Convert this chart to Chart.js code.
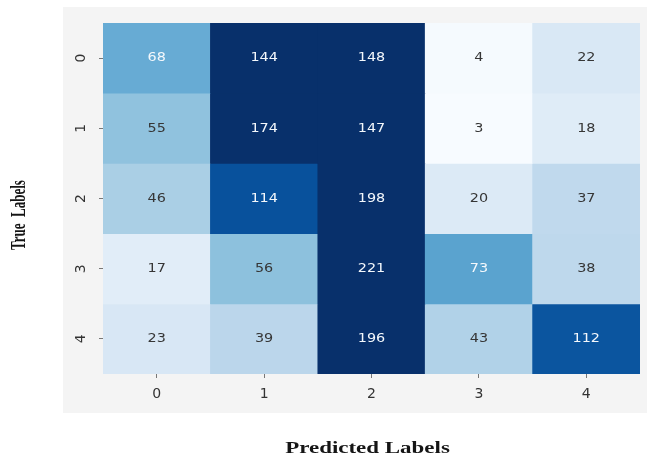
<!DOCTYPE html>
<html>
<head>
<meta charset="utf-8">
<script src="https://cdn.jsdelivr.net/npm/chart.js@4.4.1/dist/chart.umd.min.js"></script>
<style>
  html, body { margin:0; padding:0; background:#fff; }
  #wrap { width:647px; height:458px; }
</style>
</head>
<body>
<div id="wrap"><canvas id="cm" width="647" height="458"></canvas></div>
<script>
// --- DATI: matrice di confusione (righe = true, colonne = predicted) ---
const predictedLabels = ['0','1','2','3','4'];
const trueLabels = ['0','1','2','3','4'];
const counts0 = [68, 144, 148, 4, 22];
const counts1 = [55, 174, 147, 3, 18];
const counts2 = [46, 114, 198, 20, 37];
const counts3 = [17, 56, 221, 73, 38];
const counts4 = [23, 39, 196, 43, 112];
const countRows = [counts0, counts1, counts2, counts3, counts4];

// scala colori (Blues), saturata in alto
const colorMin = 3;
const colorMax = 130;
const blues = ['#f7fbff','#deebf7','#c6dbef','#9ecae1','#6baed6','#4292c6','#2171b5','#08519c','#08306b'];

function hexRgb(h){
  return [parseInt(h.slice(1,3),16), parseInt(h.slice(3,5),16), parseInt(h.slice(5,7),16)];
}
function bluesRgb(v){
  let t = (v - colorMin) / (colorMax - colorMin);
  t = Math.max(0, Math.min(1, t));
  const pos = t * (blues.length - 1);
  const i = Math.min(Math.floor(pos), blues.length - 2);
  const f = pos - i;
  const a = hexRgb(blues[i]), b = hexRgb(blues[i+1]);
  return a.map((c,k)=>Math.round(c + (b[k]-c)*f));
}
function cellColor(v){
  const c = bluesRgb(v);
  return `rgb(${c[0]},${c[1]},${c[2]})`;
}
function textColor(v){
  // luminanza relativa come seaborn
  const lum = bluesRgb(v).map(c=>{
    c = c/255;
    return c <= 0.03928 ? c/12.92 : Math.pow((c+0.055)/1.055, 2.4);
  });
  const L = 0.2126*lum[0] + 0.7152*lum[1] + 0.0722*lum[2];
  return L > 0.408 ? '#363636' : '#f4f8fc';
}

// --- PLUGIN: sfondo, valori nelle celle, titoli assi ---
const cmPlugin = {
  id: 'cmPlugin',
  beforeDraw(chart){
    const ctx = chart.ctx;
    ctx.save();
    ctx.fillStyle = '#ffffff';
    ctx.fillRect(0, 0, chart.width, chart.height);
    ctx.fillStyle = '#f4f4f4';
    ctx.fillRect(63, 7, chart.width - 63, 406);
    ctx.restore();
  },
  afterDatasetsDraw(chart){
    const ctx = chart.ctx;
    ctx.save();
    ctx.font = '12.5px "DejaVu Sans"';
    ctx.textAlign = 'center';
    ctx.textBaseline = 'middle';
    chart.data.datasets.forEach((ds, r)=>{
      const meta = chart.getDatasetMeta(r);
      meta.data.forEach((bar, c)=>{
        const v = countRows[r][c];
        const p = bar.getCenterPoint();
        ctx.save();
        ctx.translate(p.x, p.y);
        ctx.scale(1.15, 1);
        ctx.fillStyle = textColor(v);
        ctx.fillText(String(v), 0, 0);
        ctx.restore();
      });
    });
    ctx.restore();
  },
  afterDraw(chart){
    const ctx = chart.ctx;
    const area = chart.chartArea;
    ctx.save();
    ctx.fillStyle = '#151515';
    ctx.textAlign = 'center';
    // titolo asse y
    ctx.font = 'bold 13px "Liberation Serif"';
    ctx.textBaseline = 'middle';
    ctx.save();
    ctx.translate(20, 215);
    ctx.scale(1.6, 1);
    ctx.rotate(-Math.PI/2);
    ctx.fillText('True  Labels', 0, 0);
    ctx.restore();
    // titolo asse x
    ctx.font = 'bold 17px "Liberation Serif"';
    ctx.textBaseline = 'alphabetic';
    ctx.save();
    ctx.translate((area.left + area.right)/2 - 4, 453);
    ctx.scale(1.35, 1);
    ctx.fillText('Predicted Labels', 0, 0);
    ctx.restore();
    ctx.restore();
  }
};

// --- DATASET: una riga della matrice per dataset (barre flottanti) ---
const datasets = countRows.map((row, r)=>({
  label: 'True ' + trueLabels[r],
  data: row.map(()=>[r, r+1]),
  backgroundColor: row.map(cellColor),
  borderWidth: 0,
  barPercentage: 1,
  categoryPercentage: 1,
  grouped: false
}));

new Chart(document.getElementById('cm'), {
  type: 'bar',
  data: { labels: predictedLabels, datasets },
  options: {
    responsive: false,
    animation: false,
    layout: { padding: { top: 23, right: 7, left: 43, bottom: 0 } },
    plugins: { legend: { display: false }, tooltip: { enabled: false } },
    scales: {
      x: {
        type: 'category',
        offset: true,
        border: { display: false },
        grid: { display: true, offset: false, drawOnChartArea: false, drawTicks: true, tickLength: 4, color: '#777' },
        ticks: { color: '#333', font: { family: 'DejaVu Sans', size: 14 }, padding: 8 },
        afterFit(scale){ scale.height = 84; }
      },
      y: {
        type: 'linear',
        min: 0,
        max: 5,
        reverse: true,
        border: { display: false },
        grid: { display: true, drawOnChartArea: false, drawTicks: true, tickLength: 4, color: '#777' },
        afterBuildTicks(scale){
          scale.ticks = trueLabels.map((_, i)=>({ value: i + 0.5 }));
        },
        ticks: {
          color: '#333',
          font: { family: 'DejaVu Sans', size: 14 },
          minRotation: 90,
          maxRotation: 90,
          crossAlign: 'center',
          padding: 13,
          callback: (v)=> trueLabels[Math.floor(v)]
        },
        afterFit(scale){
          scale.width = 60;
          scale.paddingTop = 0;
          scale.paddingBottom = 0;
        }
      }
    }
  },
  plugins: [cmPlugin]
});
</script>
</body>
</html>
